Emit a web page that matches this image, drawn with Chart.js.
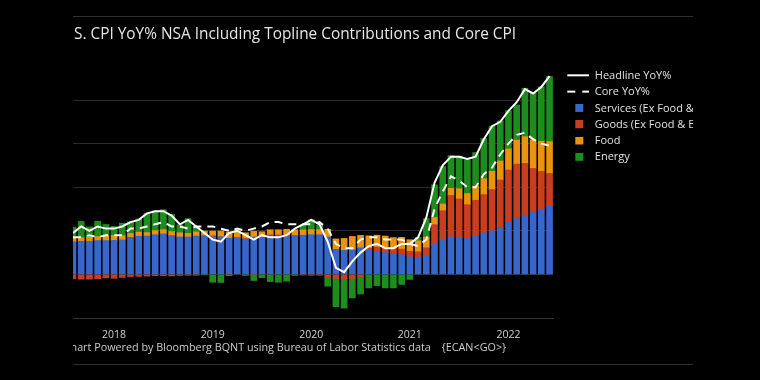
<!DOCTYPE html>
<html><head><meta charset="utf-8">
<script src="https://cdn.jsdelivr.net/npm/chart.js@4.4.1/dist/chart.umd.min.js"></script>
<style>
html,body{margin:0;padding:0;background:#000;width:760px;height:380px;overflow:hidden;}
#frame{position:absolute;left:73px;top:16px;width:620px;height:347px;border-top:1px solid #303030;border-bottom:1px solid #303030;overflow:hidden;}
#wrap{position:absolute;left:0;top:0;width:620px;height:347px;}
.txt{position:absolute;white-space:pre;font-family:'Open Sans',sans-serif;line-height:1;}
#title{font-size:15.4px;color:#e6e6e6;top:8.8px;}
#foot{font-size:10.8px;color:#cccccc;top:324.9px;}
#code{font-size:10.8px;color:#cccccc;top:324.9px;left:368.7px;}
</style></head>
<body>
<div id="frame">
  <div id="wrap"><canvas id="c"></canvas></div>
  <div id="title" class="txt"></div>
  <div id="foot" class="txt"></div>
  <div id="code" class="txt"></div>
</div>
<script>
const months = [
  '2017-08','2017-09','2017-10','2017-11','2017-12',
  '2018-01','2018-02','2018-03','2018-04','2018-05','2018-06','2018-07','2018-08','2018-09','2018-10','2018-11','2018-12',
  '2019-01','2019-02','2019-03','2019-04','2019-05','2019-06','2019-07','2019-08','2019-09','2019-10','2019-11','2019-12',
  '2020-01','2020-02','2020-03','2020-04','2020-05','2020-06','2020-07','2020-08','2020-09','2020-10','2020-11','2020-12',
  '2021-01','2021-02','2021-03','2021-04','2021-05','2021-06','2021-07','2021-08','2021-09','2021-10','2021-11','2021-12',
  '2022-01','2022-02','2022-03','2022-04','2022-05','2022-06'
];
const headline = [
  1.9, 2.2, 2.0, 2.2, 2.1,
  2.1, 2.2, 2.4, 2.5, 2.8, 2.9, 2.9, 2.7, 2.3, 2.5, 2.2, 1.9,
  1.6, 1.5, 1.9, 2.0, 1.8, 1.6, 1.8, 1.7, 1.7, 1.8, 2.1, 2.3,
  2.5, 2.3, 1.5, 0.3, 0.1, 0.6, 1.0, 1.3, 1.4, 1.2, 1.2, 1.4,
  1.4, 1.7, 2.6, 4.2, 5.0, 5.4, 5.4, 5.3, 5.4, 6.2, 6.8, 7.0,
  7.5, 7.9, 8.5, 8.3, 8.6, 9.1
];
const core = [
  1.7, 1.7, 1.8, 1.7, 1.8,
  1.8, 1.8, 2.1, 2.1, 2.2, 2.3, 2.4, 2.2, 2.2, 2.1, 2.2, 2.2,
  2.2, 2.1, 2.0, 2.1, 2.0, 2.1, 2.2, 2.4, 2.4, 2.3, 2.3, 2.3,
  2.3, 2.4, 2.1, 1.4, 1.2, 1.2, 1.6, 1.7, 1.7, 1.6, 1.6, 1.6,
  1.4, 1.3, 1.6, 3.0, 3.8, 4.5, 4.3, 4.0, 4.0, 4.6, 4.9, 5.5,
  6.0, 6.4, 6.5, 6.2, 6.0, 5.9
];
const services = [
  1.50, 1.52, 1.52, 1.55, 1.55,
  1.56, 1.58, 1.70, 1.75, 1.76, 1.82, 1.86, 1.78, 1.72, 1.72, 1.76, 1.76,
  1.72, 1.72, 1.66, 1.66, 1.62, 1.72, 1.68, 1.78, 1.74, 1.74, 1.78, 1.80,
  1.82, 1.82, 1.72, 1.15, 1.10, 1.12, 1.22, 1.12, 1.06, 1.00, 0.96, 0.90,
  0.80, 0.78, 0.88, 1.40, 1.62, 1.72, 1.70, 1.64, 1.78, 1.90, 2.00, 2.15,
  2.38, 2.56, 2.68, 2.84, 2.97, 3.14
];
const goods = [
  -0.20, -0.22, -0.22, -0.20, -0.16,
  -0.18, -0.14, -0.10, -0.09, -0.08, -0.06, -0.06, -0.07, -0.05, -0.04, -0.04, 0.01,
  0.05, 0.00, -0.03, 0.03, 0.02, -0.02, 0.04, 0.04, 0.07, 0.05, 0.00, -0.03,
  -0.04, -0.04, -0.12, -0.18, -0.20, -0.18, -0.12, 0.08, 0.20, 0.22, 0.22, 0.26,
  0.26, 0.26, 0.34, 0.88, 1.30, 1.90, 1.76, 1.56, 1.62, 1.76, 1.89, 2.18,
  2.41, 2.50, 2.41, 2.02, 1.76, 1.49
];
const food = [
  0.19, 0.16, 0.18, 0.19, 0.22,
  0.23, 0.19, 0.18, 0.19, 0.16, 0.19, 0.19, 0.19, 0.19, 0.16, 0.19, 0.22,
  0.22, 0.27, 0.28, 0.26, 0.27, 0.26, 0.24, 0.23, 0.24, 0.28, 0.27, 0.24,
  0.24, 0.24, 0.35, 0.48, 0.55, 0.62, 0.57, 0.57, 0.54, 0.54, 0.51, 0.54,
  0.53, 0.50, 0.49, 0.33, 0.31, 0.33, 0.47, 0.51, 0.64, 0.73, 0.84, 0.87,
  0.97, 1.10, 1.23, 1.30, 1.38, 1.46
];
const energy = [
  0.48, 0.75, 0.48, 0.70, 0.52,
  0.41, 0.58, 0.53, 0.60, 0.88, 0.90, 0.92, 0.78, 0.37, 0.68, 0.24, -0.02,
  -0.36, -0.37, -0.03, 0.13, -0.05, -0.26, -0.15, -0.33, -0.36, -0.31, -0.05, 0.25,
  0.45, 0.20, -0.42, -1.30, -1.35, -0.90, -0.78, -0.62, -0.52, -0.62, -0.62, -0.46,
  -0.23, 0.15, 0.85, 1.50, 1.72, 1.50, 1.50, 1.55, 1.55, 1.85, 2.07, 1.84,
  1.75, 1.61, 2.22, 2.15, 2.50, 2.99
];
const yearLabels = ['2018', '2019', '2020', '2021', '2022'];
const seriesNames = ['Headline YoY%', 'Core YoY%', 'Services (Ex Food & Energy)', 'Goods (Ex Food & Energy)', 'Food', 'Energy'];
const titleText = 'U.S. CPI YoY% NSA Including Topline Contributions and Core CPI';
const footText = 'Chart Powered by Bloomberg BQNT using Bureau of Labor Statistics data';
const codeText = '{ECAN<GO>}';

// text placement (the reference is cropped at the left edge of the frame)
const mctx = document.createElement('canvas').getContext('2d');
mctx.font = '15.4px "Open Sans"';
const tEl = document.getElementById('title');
tEl.textContent = titleText;
tEl.style.left = (1 - mctx.measureText('U.').width) + 'px';
mctx.font = '10.8px "Open Sans"';
const fEl = document.getElementById('foot');
fEl.textContent = footText;
fEl.style.left = (-2.5 - mctx.measureText('C').width) + 'px';
document.getElementById('code').textContent = codeText;

const COLORS = {services: '#3866ca', goods: '#c83e1e', food: '#e8940f', energy: '#1f8c1f', line: '#ffffff'};

function legendIcon(kind, color) {
  const c = document.createElement('canvas');
  c.width = 31;
  c.height = (kind === 'box') ? 9 : 5;
  const g = c.getContext('2d');
  g.fillStyle = color;
  if (kind === 'line') g.fillRect(9, 1, 22, 2);
  else if (kind === 'dash') { g.fillRect(9, 1, 8, 2); g.fillRect(24, 1, 7, 2); }
  else g.fillRect(17, 0, 8, 8);
  return c;
}

const pts = arr => arr.map((v, i) => ({x: i, y: v}));
const tickIdx = yearLabels.map(y => months.indexOf(y + '-01'));

const barDs = (label, arr, color) => ({
  type: 'bar', label, data: pts(arr), backgroundColor: color, borderWidth: 0,
  barThickness: 6, order: 1, clip: 0, pointStyle: legendIcon('box', color)
});

new Chart(document.getElementById('c'), {
  data: {
    datasets: [
      {type: 'line', label: seriesNames[0], data: pts(headline), borderColor: COLORS.line, borderWidth: 2,
       pointRadius: 0, tension: 0, order: 0, stack: 'h', pointStyle: legendIcon('line', COLORS.line)},
      {type: 'line', label: seriesNames[1], data: pts(core), borderColor: COLORS.line, borderWidth: 2,
       borderDash: [8, 6], pointRadius: 0, tension: 0, order: 0, stack: 'c', pointStyle: legendIcon('dash', COLORS.line)},
      barDs(seriesNames[2], services, COLORS.services),
      barDs(seriesNames[3], goods, COLORS.goods),
      barDs(seriesNames[4], food, COLORS.food),
      barDs(seriesNames[5], energy, COLORS.energy)
    ]
  },
  options: {
    responsive: true, maintainAspectRatio: false, animation: false,
    layout: {padding: {top: 48, bottom: 18, left: 0, right: 0}},
    plugins: {
      legend: {
        position: 'right', align: 'start', maxWidth: 140,
        labels: {usePointStyle: true, pointStyleWidth: 31, padding: 5.3, color: '#e0e0e0',
                 font: {family: "'Open Sans', sans-serif", size: 11}}
      },
      tooltip: {enabled: false},
      title: {display: false}
    },
    scales: {
      x: {
        type: 'linear', min: 0, max: 58.42, offset: false, stacked: true,
        grid: {display: false, drawTicks: false},
        border: {display: true, color: '#333333'},
        ticks: {color: '#d0d0d0', font: {family: "'Open Sans', sans-serif", size: 10.5}, padding: 10.5,
                maxRotation: 0, autoSkip: false,
                callback: v => { const i = tickIdx.indexOf(v); return i >= 0 ? yearLabels[i] : ''; }},
        afterBuildTicks: s => { s.ticks = tickIdx.map(v => ({value: v})); },
        afterFit: s => { s.height = 28; }
      },
      y: {
        min: -2, max: 9.606, stacked: true,
        ticks: {display: false, stepSize: 2},
        grid: {color: '#2c2c36', drawTicks: false},
        border: {display: false},
        afterBuildTicks: s => { s.ticks = s.ticks.filter(t => t.value <= 8 && Math.abs(t.value % 2) < 1e-6); },
        afterFit: s => { s.width = 0; }
      }
    }
  }
});
</script>
</body></html>
